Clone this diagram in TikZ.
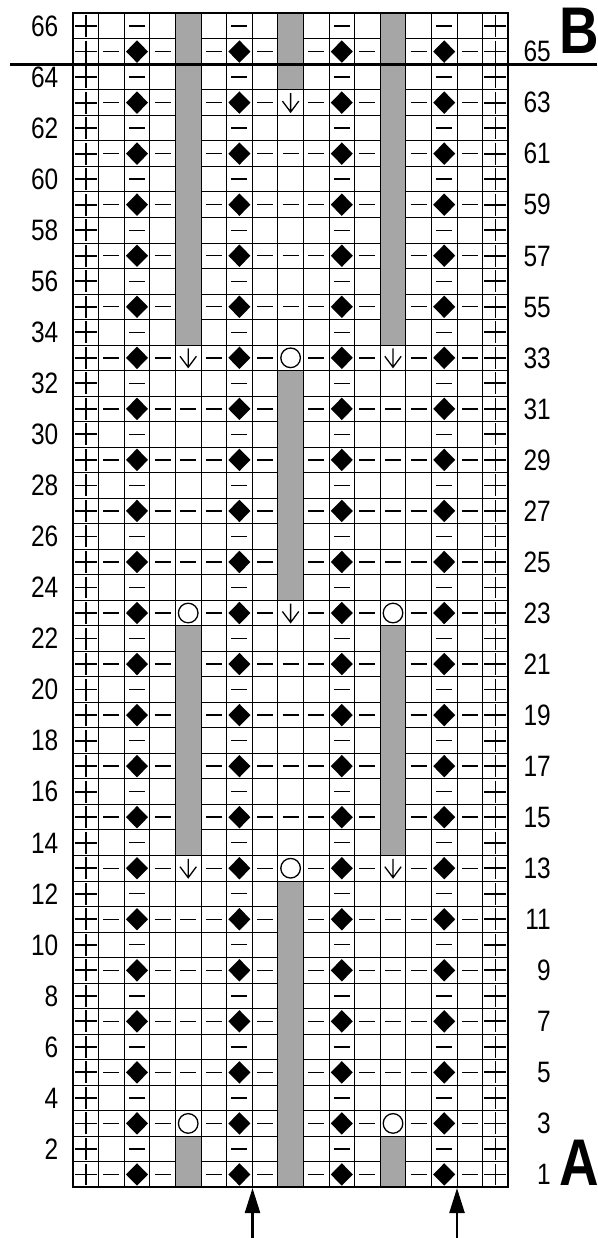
\documentclass[tikz,border=0pt]{standalone}
\usepackage{fontspec}
\newfontfamily\labelfont[FakeStretch=0.83]{Liberation Sans}
\usetikzlibrary{arrows.meta}
\definecolor{shade}{RGB}{166,166,166}
\tikzset{
  gridline/.style={line width=0.9pt, black},
  grayblock/.style={fill=shade, draw=black, line width=0.9pt},
  border/.style={line width=2.2pt, black},
  rownum/.style={font=\labelfont\fontsize{29.5}{29.5}\selectfont, inner sep=0pt, anchor=base east},
  bigletter/.style={font=\labelfont\bfseries\fontsize{66}{66}\selectfont, inner sep=0pt, anchor=base west},
  cutline/.style={line width=3.5pt, black},
  startarrow/.style={line width=2.3pt, -{Triangle[width=15pt,length=25pt]}},
  symplus/.pic={\draw[line width=1.8pt] (-0.43,0) -- (0.43,0) (0,-0.43) -- (0,0.43);},
  symminus/.pic={\draw[line width=1.4pt] (-0.31,0) -- (0.31,0);},
  symdia/.pic={\fill (0,-0.44) -- (0.43,0) -- (0,0.44) -- (-0.43,0) -- cycle;},
  symcirc/.pic={\draw[line width=1.3pt] (0,0) circle[radius=9.8pt];},
  symdown/.pic={\draw[line width=1.3pt, line join=miter] (0,-0.37) -- (0,0.37) (-0.32,-0.06) -- (0,0.37) -- (0.32,-0.06);},
}
\begin{document}
\begin{tikzpicture}[x=1pt,y=-1pt]
\useasboundingbox (0,0) rectangle (597,1238);
\begin{scope}[shift={(73,13.3)},x=25.6pt,y=-25.52pt]
  % horizontal lines
  \foreach \r in {1,...,45} \draw[gridline] (0,\r) -- (17,\r);
  % grey (no stitch) blocks
  \foreach \c/\a/\b in {4/0/13, 12/0/13, 8/0/3, 8/14/23, 4/24/33, 12/24/33, 8/34/46, 4/44/46, 12/44/46}
    \draw[grayblock] (\c,\a) rectangle (\c+1,\b);
  % vertical lines
  \foreach \c in {1,...,16} \draw[gridline] (\c,0) -- (\c,46);
  \draw[border] (0,0) rectangle (17,46);
  % edge stitches
  \foreach \r in {0,...,45} {
    \pic at (0.5,\r+0.5) {symplus};
    \pic at (16.5,\r+0.5) {symplus};
  }
  % odd rows
  \foreach \r in {1,3,...,45} {
    \foreach \c in {2,6,10,14} \pic at (\c+0.5,\r+0.5) {symdia};
    \foreach \c in {1,3,...,15} \pic at (\c+0.5,\r+0.5) {symminus};
  }
  % even rows
  \foreach \r in {0,2,...,44} {
    \foreach \c in {2,6,10,14} \pic at (\c+0.5,\r+0.5) {symminus};
  }
  % variable columns
  \foreach \r in {15,17,19,21,35,37,39,41} {
    \pic at (4.5,\r+0.5) {symminus};
    \pic at (12.5,\r+0.5) {symminus};
  }
  \foreach \r in {5,7,9,11,25,27,29,31} \pic at (8.5,\r+0.5) {symminus};
  \foreach \c/\r in {4/13,12/13,4/33,12/33,8/3,8/23} \pic at (\c+0.5,\r+0.5) {symdown};
  \foreach \c/\r in {8/13,8/33,4/23,12/23,4/43,12/43} \pic at (\c+0.5,\r+0.5) {symcirc};
\end{scope}
% row numbers
\foreach \r in {0,2,...,44} {
  \pgfmathtruncatemacro\lab{\r<12 ? 66-\r : 46-\r}
  \pgfmathsetmacro\yy{13.3+(\r+0.5)*25.52+10.3}
  \node[rownum] (left\lab) at (58.5,\yy) {\lab};
}
\foreach \r in {1,3,...,45} {
  \pgfmathtruncatemacro\lab{\r<12 ? 66-\r : 46-\r}
  \pgfmathsetmacro\yy{13.3+(\r+0.5)*25.52+10.3}
  \node[rownum] (right\lab) at (551,\yy) {\lab};
}
% section line B
\coordinate (cutL) at (10,64.5);
\coordinate (cutR) at (597,64.5);
\draw[cutline] (cutL) -- (cutR);
\node[bigletter] (letterB) at (559,53.3) {B};
\node[bigletter] (letterA) at (559.5,1185) {A};
% start arrows
\coordinate (arr1s) at (252.5,1238);
\coordinate (arr1e) at (252.5,1188);
\coordinate (arr2s) at (457,1238);
\coordinate (arr2e) at (457,1188);
\draw[startarrow] (arr1s) -- (arr1e);
\draw[startarrow] (arr2s) -- (arr2e);
\end{tikzpicture}
\end{document}
